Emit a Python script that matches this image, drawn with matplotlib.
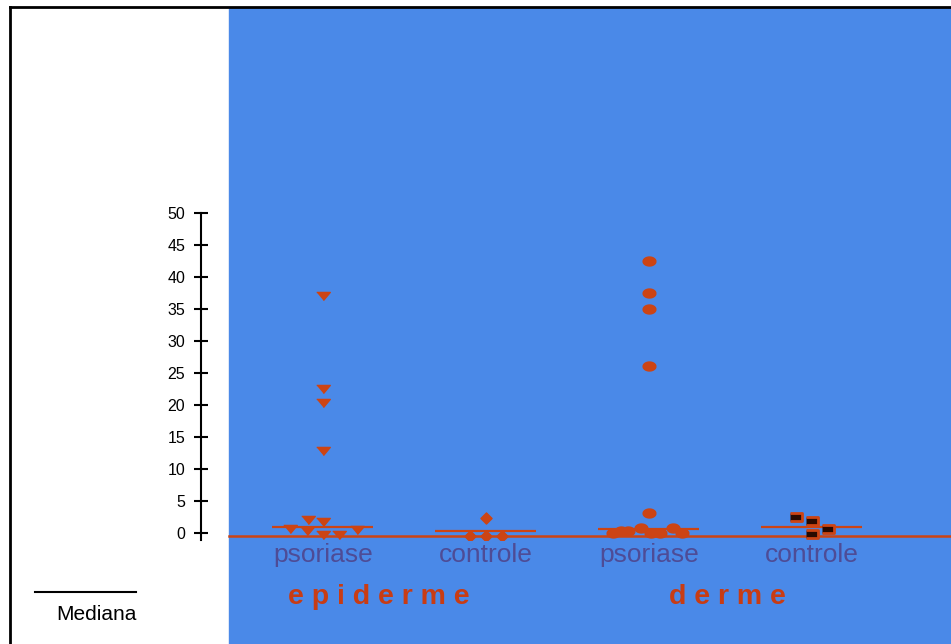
import numpy as np
import matplotlib.pyplot as plt
from matplotlib.patches import Rectangle
from matplotlib.lines import Line2D

# values (y) plus small horizontal jitter, in category units
epi_pso = [37.0, 22.5, 20.3, 12.8, 2.0, 1.7, 0.6, 0.3, -0.3, -0.3, 0.5]
epi_pso_jit = [0, 0, 0, 0, -0.09, 0, -0.2, -0.1, 0, 0.1, 0.21]

epi_ctl = [2.3, -0.5, -0.5, -0.5]
epi_ctl_jit = [0, -0.1, 0, 0.1]

der_pso = [42.5, 37.5, 35.0, 26.1, 3.1, 0.0, 0.3, 0.8, 0.0, 0.0, 0.8, 0.0, 0.3]
der_pso_jit = [0, 0, 0, 0, 0, -0.22, -0.13, -0.05, 0.01, 0.07, 0.15, 0.2, -0.17]

der_ctl = [2.5, 1.9, 0.6, -0.1]
der_ctl_jit = [-0.1, 0, 0.1, 0]

medians = [0.9, 0.3, 0.6, 0.9]
categories = ["psoriase", "controle", "psoriase", "controle"]
groups = ["e p i d e r m e", "d e r m e"]

BLUE = "#4A89E8"
RED = "#CC4414"
plt.rcParams['font.family'] = ['Liberation Sans', 'DejaVu Sans']

W, H = 951, 644
fig = plt.figure(figsize=(W / 100, H / 100), dpi=100)
fig.patch.set_facecolor("white")

# blue plot area and outer frame
fig.add_artist(Rectangle((229 / W, 0), (W - 229) / W, (H - 8) / H,
                         transform=fig.transFigure, color=BLUE, zorder=0))
fig.add_artist(Line2D([10 / W, 10 / W], [0, 1 - 7 / H], transform=fig.transFigure,
                      color="black", lw=2))
fig.add_artist(Line2D([10 / W, 1], [1 - 7 / H, 1 - 7 / H], transform=fig.transFigure,
                      color="black", lw=2))

ax = fig.add_axes([201 / W, 104 / H, 750 / W, 327 / H])
ax.patch.set_alpha(0)
ax.set_xlim(0.252, 4.853)
ax.set_ylim(-1.1, 50)

# flattened marker shapes
tri = [(-1, 0.6), (1, 0.6), (0, -0.6)]
t = np.linspace(0, 2 * np.pi, 30)
ell = list(zip(np.cos(t), 0.7 * np.sin(t)))
rect = [(-1, -0.6), (1, -0.6), (1, 0.6), (-1, 0.6)]

ax.axhline(-0.45, xmin=28 / 750, xmax=1, color=RED, lw=1.8, zorder=2)

ax.scatter(1 + np.array(epi_pso_jit), epi_pso, marker=tri, s=95, color=RED, zorder=3)
ax.scatter(2 + np.array(epi_ctl_jit), epi_ctl, marker="D", s=32, color=RED, zorder=3)
ax.scatter(3 + np.array(der_pso_jit), der_pso, marker=ell, s=85, color=RED, zorder=3)
ax.scatter(4 + np.array(der_ctl_jit), der_ctl, marker=rect, s=85, facecolor="#2a0a00",
           edgecolor=RED, linewidths=2, zorder=3)

for i, m in enumerate(medians):
    ax.hlines(m, i + 1 - 0.31, i + 1 + 0.31, color=RED, lw=1.6, zorder=2)

ax.set_yticks(range(0, 51, 5))
ax.tick_params(axis='y', direction='inout', length=10, width=1.5, pad=6.5, labelsize=11.5)
ax.set_xticks([1, 2, 3, 4], categories)
ax.tick_params(axis='x', length=0, pad=2, labelsize=19, labelcolor="#4E4C96")
for s in ["top", "right", "bottom"]:
    ax.spines[s].set_visible(False)
ax.spines["left"].set_linewidth(1.5)

ax.text(1.34, -10, groups[0], ha="center", va="center", fontsize=20.5,
        fontweight="bold", color="#C83C14")
ax.text(3.48, -10, groups[1], ha="center", va="center", fontsize=20.5,
        fontweight="bold", color="#C83C14")

# legend for the median line
fig.add_artist(Line2D([35 / W, 136 / W], [1 - 592 / H, 1 - 592 / H],
                      transform=fig.transFigure, color="black", lw=1.5))
fig.text(96 / W, 1 - 615 / H, "Mediana", ha="center", va="center", fontsize=15)

fig.savefig("out.png", dpi=100)
